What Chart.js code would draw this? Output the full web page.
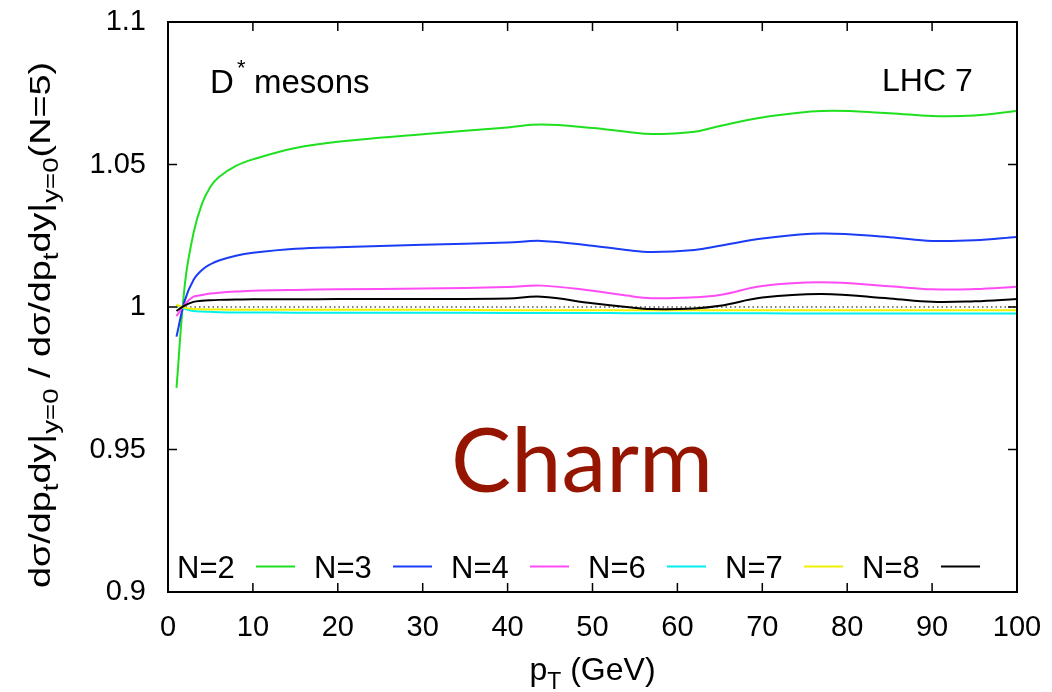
<!DOCTYPE html>
<html>
<head>
<meta charset="utf-8">
<script src="https://cdn.jsdelivr.net/npm/chart.js@4.4.0/dist/chart.umd.min.js"></script>
<style>
  html, body { margin: 0; background: #fff; }
  #wrap { width: 1052px; height: 692px; }
</style>
</head>
<body>
<div id="wrap"><canvas id="chart" width="1052" height="692"></canvas></div>
<script>
// ── Data ────────────────────────────────────────────────────────────────────
const pt = [1, 2, 3, 4, 5, 6, 8, 10, 15, 20, 30, 40, 44, 50, 54, 57, 62, 65, 70, 77, 85, 90, 95, 100];

const ratioN2 = [0.9716, 1.0084, 1.0259, 1.0362, 1.0422, 1.0456, 1.0495, 1.0518, 1.0558, 1.0580, 1.0606, 1.0630, 1.0640, 1.0628, 1.0615, 1.0607, 1.0615, 1.0635, 1.0665, 1.0688, 1.0680, 1.0670, 1.0672, 1.0688];
const ratioN3 = [0.9896, 1.0025, 1.0095, 1.0130, 1.0150, 1.0163, 1.0180, 1.0190, 1.0204, 1.0210, 1.0218, 1.0226, 1.0232, 1.0215, 1.0200, 1.0193, 1.0200, 1.0215, 1.0240, 1.0258, 1.0245, 1.0232, 1.0234, 1.0246];
const ratioN4 = [0.9968, 1.0010, 1.0036, 1.0042, 1.0047, 1.0050, 1.0054, 1.0057, 1.0060, 1.0062, 1.0065, 1.0070, 1.0075, 1.0057, 1.0040, 1.0031, 1.0034, 1.0042, 1.0074, 1.0087, 1.0073, 1.0062, 1.0063, 1.0071];
const ratioN6 = [1.0007, 0.9994, 0.9986, 0.9984, 0.9983, 0.9982, 0.9981, 0.9981, 0.9980, 0.9980, 0.9980, 0.9979, 0.9979, 0.9979, 0.9978, 0.9978, 0.9978, 0.9978, 0.9978, 0.9977, 0.9977, 0.9977, 0.9977, 0.9977];
const ratioN7 = [1.0008, 0.9997, 0.9993, 0.9992, 0.9991, 0.9991, 0.9990, 0.9990, 0.9990, 0.9990, 0.9990, 0.9989, 0.9989, 0.9989, 0.9989, 0.9989, 0.9989, 0.9989, 0.9989, 0.9989, 0.9989, 0.9989, 0.9989, 0.9989];
const ratioN8 = [0.9986, 1.0006, 1.0018, 1.0022, 1.0024, 1.0025, 1.0026, 1.0027, 1.0027, 1.0028, 1.0028, 1.0030, 1.0036, 1.0013, 1.0000, 0.9993, 0.9995, 1.0004, 1.0033, 1.0046, 1.0030, 1.0018, 1.0020, 1.0028];

const refX = [1, 100];          // N=5 reference, ratio 1 by definition
const refY = [1, 1];

const seriesLabels = ['N=2', 'N=3', 'N=4', 'N=6', 'N=7', 'N=8'];
const seriesValues = [ratioN2, ratioN3, ratioN4, ratioN6, ratioN7, ratioN8];
const seriesColors = ['#1ee01e', '#1a3cf5', '#ff4cf5', '#00f0f0', '#f0f000', '#000000'];

const xTicks = [0, 10, 20, 30, 40, 50, 60, 70, 80, 90, 100];
const yTicks = [0.9, 0.95, 1, 1.05, 1.1];
const yTickLabels = ['0.9', '0.95', '1', '1.05', '1.1'];

const FONT = '"Liberation Sans", Arial, Helvetica, sans-serif';

// ── Helpers ─────────────────────────────────────────────────────────────────

// parts: [{t, sub}] -> text with subscripts, starting at x on baseline y
function richWidth(ctx, parts, size) {
    let w = 0;
    parts.forEach(p => {
        ctx.font = `${p.sub ? Math.round(size * 0.72) : size}px ${FONT}`;
        w += ctx.measureText(p.t).width;
    });
    return w;
}

function drawRich(ctx, parts, x, y, size) {
    parts.forEach(p => {
        const s = p.sub ? Math.round(size * 0.72) : size;
        ctx.font = `${s}px ${FONT}`;
        ctx.fillText(p.t, x, y + (p.sub ? size * 0.27 : 0));
        x += ctx.measureText(p.t).width;
    });
}

// ── Plugins ─────────────────────────────────────────────────────────────────

const framePlugin = {
    id: 'frame',
    afterDraw(chart) {
        const { ctx, chartArea: a, scales: { x, y } } = chart;
        const tl = 9;
        ctx.save();
        ctx.strokeStyle = '#000';
        ctx.lineWidth = 1.5;
        ctx.beginPath();
        xTicks.forEach(v => {
            const px = x.getPixelForValue(v);
            ctx.moveTo(px, a.bottom); ctx.lineTo(px, a.bottom - tl);
            ctx.moveTo(px, a.top);    ctx.lineTo(px, a.top + tl);
        });
        yTicks.forEach(v => {
            const py = y.getPixelForValue(v);
            ctx.moveTo(a.left, py);  ctx.lineTo(a.left + tl, py);
            ctx.moveTo(a.right, py); ctx.lineTo(a.right - tl, py);
        });
        ctx.stroke();
        ctx.lineWidth = 2;
        ctx.strokeRect(a.left, a.top, a.right - a.left, a.bottom - a.top);
        ctx.restore();
    }
};

const textPlugin = {
    id: 'texts',
    afterDraw(chart) {
        const { ctx, chartArea: a } = chart;
        ctx.save();
        ctx.fillStyle = '#000';
        ctx.textBaseline = 'alphabetic';
        ctx.textAlign = 'left';

        // corner labels
        ctx.font = `33px ${FONT}`;
        ctx.fillText('D', 210, 93);
        ctx.fillText('mesons', 254, 93);
        ctx.font = `22px ${FONT}`;
        ctx.fillText('*', 237, 75);
        ctx.font = `32px ${FONT}`;
        ctx.fillText('LHC 7', 882, 91);

        // key: text first, line sample after it
        const lx0 = 177, step = 137, ly = 578;
        chart.data.datasets.forEach((ds, i) => {
            if (i >= seriesLabels.length) return;
            const lx = lx0 + i * step;
            ctx.font = `31px ${FONT}`;
            ctx.fillStyle = '#000';
            ctx.fillText(seriesLabels[i], lx, ly);
            ctx.strokeStyle = ds.borderColor;
            ctx.lineWidth = 2;
            ctx.beginPath();
            ctx.moveTo(lx + 79, ly - 11.5);
            ctx.lineTo(lx + 118, ly - 11.5);
            ctx.stroke();
        });

        // x title
        const xParts = [{ t: 'p' }, { t: 'T', sub: true }, { t: ' (GeV)' }];
        const xw = richWidth(ctx, xParts, 32);
        drawRich(ctx, xParts, (a.left + a.right) / 2 - xw / 2, 680, 32);

        // y title (stretched along its length like the original)
        const yParts = [
            { t: 'd\u03c3/dp' }, { t: 't', sub: true }, { t: 'dy|' }, { t: 'y=0', sub: true },
            { t: ' / d\u03c3/dp' }, { t: 't', sub: true }, { t: 'dy|' }, { t: 'y=0', sub: true },
            { t: '(N=5)' }
        ];
        const yw = richWidth(ctx, yParts, 30);
        ctx.translate(50, 325);
        ctx.rotate(-Math.PI / 2);
        ctx.scale(526 / yw, 1);
        drawRich(ctx, yParts, -yw / 2, 0, 30);
        ctx.setTransform(1, 0, 0, 1, 0, 0);

        // big label
        ctx.fillStyle = '#961500';
        ctx.font = `90px Lato, "Open Sans", sans-serif`;
        ctx.textAlign = 'center';
        ctx.fillText('Charm', 582, 492);
        ctx.restore();
    }
};

// ── Chart ───────────────────────────────────────────────────────────────────

const datasets = seriesLabels.map((lab, i) => ({
    label: lab,
    data: pt.map((x, k) => ({ x, y: seriesValues[i][k] })),
    borderColor: seriesColors[i],
    borderWidth: 2,
    pointRadius: 0,
    tension: 0.4,
    order: seriesLabels.length - i
}));
datasets.push({
    label: 'N=5',
    data: refX.map((x, k) => ({ x, y: refY[k] })),
    borderColor: '#000',
    borderWidth: 1.2,
    borderDash: [1.5, 3],
    pointRadius: 0,
    order: 3.5
});

new Chart(document.getElementById('chart'), {
    type: 'line',
    data: { datasets },
    options: {
        responsive: false,
        animation: false,
        events: [],
        layout: { padding: { left: 0, right: 35, top: 22, bottom: 0 } },
        plugins: { legend: { display: false }, tooltip: { enabled: false } },
        scales: {
            x: {
                type: 'linear', min: 0, max: 100,
                afterBuildTicks: s => { s.ticks = xTicks.map(v => ({ value: v })); },
                afterFit: s => { s.height = 100; s.paddingLeft = 0; s.paddingRight = 0; },
                grid: { display: false, drawTicks: false },
                border: { display: false },
                ticks: { color: '#000', padding: 19, maxRotation: 0, font: { family: FONT, size: 29 } }
            },
            y: {
                type: 'linear', min: 0.9, max: 1.1,
                afterBuildTicks: s => { s.ticks = yTicks.map(v => ({ value: v })); },
                afterFit: s => { s.width = 168; s.paddingTop = 0; s.paddingBottom = 0; },
                grid: { display: false, drawTicks: false },
                border: { display: false },
                ticks: {
                    color: '#000', padding: 22, font: { family: FONT, size: 29 },
                    callback: (v, i) => yTickLabels[i]
                }
            }
        }
    },
    plugins: [framePlugin, textPlugin]
});
</script>
</body>
</html>
